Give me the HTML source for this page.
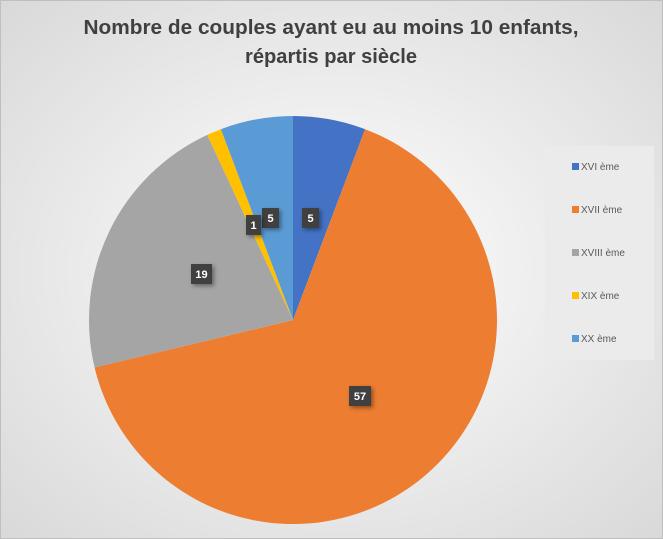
<!DOCTYPE html>
<html><head><meta charset="utf-8"><style>
html,body{margin:0;padding:0;width:663px;height:539px;overflow:hidden;}
</style></head><body>
<svg width="663" height="539" xmlns="http://www.w3.org/2000/svg" font-family="'Liberation Sans', sans-serif">
<defs>
<radialGradient id="bg" cx="50%" cy="50%" r="70%">
<stop offset="0" stop-color="#ffffff"/><stop offset="1" stop-color="#d9d9d9"/>
</radialGradient>
<filter id="sh" x="-50%" y="-50%" width="200%" height="200%"><feDropShadow dx="2" dy="2" stdDeviation="2" flood-opacity="0.4"/></filter>
</defs>
<rect x="0" y="0" width="663" height="539" fill="url(#bg)"/>
<rect x="0.5" y="0.5" width="662" height="538" fill="none" stroke="#bfbfbf"/>
<text x="331" y="34" text-anchor="middle" font-size="20" font-weight="bold" fill="#404040" textLength="495" lengthAdjust="spacingAndGlyphs">Nombre de couples ayant eu au moins 10 enfants,</text>
<text x="331" y="63" text-anchor="middle" font-size="20" font-weight="bold" fill="#404040" textLength="172" lengthAdjust="spacingAndGlyphs">répartis par siècle</text>
<g>
<path d="M293 320 L293 116 A204 204 0 0 1 365.1 129.2 Z" fill="#4472c4"/>
<path d="M293 320 L365.1 129.2 A204 204 0 1 1 94.6 367.5 Z" fill="#ed7d31"/>
<path d="M293 320 L94.6 367.5 A204 204 0 0 1 207.3 134.9 Z" fill="#a5a5a5"/>
<path d="M293 320 L207.3 134.9 A204 204 0 0 1 220.9 129.2 Z" fill="#ffc000"/>
<path d="M293 320 L220.9 129.2 A204 204 0 0 1 293 116 Z" fill="#5b9bd5"/>
</g>
<g font-size="11" font-weight="bold" fill="#ffffff" text-anchor="middle">
<rect x="302" y="208" width="17" height="20" fill="#404040" filter="url(#sh)"/><text x="310.5" y="222">5</text>
<rect x="262" y="208" width="17" height="20" fill="#404040" filter="url(#sh)"/><text x="270.5" y="222">5</text>
<rect x="246" y="215" width="15" height="20" fill="#404040" filter="url(#sh)"/><text x="253.5" y="229">1</text>
<rect x="191" y="264" width="21" height="20" fill="#404040" filter="url(#sh)"/><text x="201.5" y="278">19</text>
<rect x="349" y="386" width="22" height="20" fill="#404040" filter="url(#sh)"/><text x="360" y="400">57</text>
</g>
<rect x="545" y="146" width="109" height="214" fill="#ebebeb"/>
<g font-size="10" fill="#595959">
<rect x="572" y="163" width="7" height="7" fill="#4472c4"/><text x="581" y="170">XVI ème</text>
<rect x="572" y="206" width="7" height="7" fill="#ed7d31"/><text x="581" y="213">XVII ème</text>
<rect x="572" y="249" width="7" height="7" fill="#a5a5a5"/><text x="581" y="256">XVIII ème</text>
<rect x="572" y="292" width="7" height="7" fill="#ffc000"/><text x="581" y="299">XIX ème</text>
<rect x="572" y="335" width="7" height="7" fill="#5b9bd5"/><text x="581" y="342">XX ème</text>
</g>
</svg>
</body></html>
